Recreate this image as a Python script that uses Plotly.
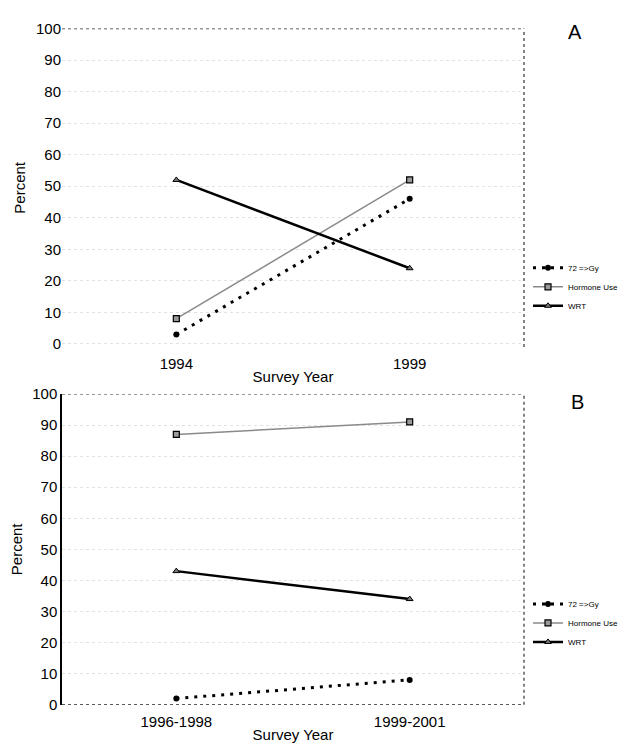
import plotly.graph_objects as go

# Panel A data
years_a = ["1994", "1999"]
gy72_a = [3, 46]
hormone_a = [8, 52]
wrt_a = [52, 24]

# Panel B data
years_b = ["1996-1998", "1999-2001"]
gy72_b = [2, 8]
hormone_b = [87, 91]
wrt_b = [43, 34]

series_names = ["72 =>Gy", "Hormone Use", "WRT"]

FONT = "Liberation Sans, Arial, sans-serif"

fig = go.Figure()

def add_series(xs, vals, name, xa, ya, legend, style):
    fig.add_trace(go.Scatter(
        x=xs, y=vals, name=name, mode="lines+markers",
        xaxis=xa, yaxis=ya, legend=legend, cliponaxis=False,
        line=style["line"], marker=style["marker"],
    ))

styles = [
    dict(line=dict(color="black", width=3, dash="3px,6px"),
         marker=dict(symbol="circle", size=6, color="black")),
    dict(line=dict(color="#8a8a8a", width=1.5),
         marker=dict(symbol="square", size=6, color="#9a9a9a",
                     line=dict(color="black", width=1.2))),
    dict(line=dict(color="black", width=2.5),
         marker=dict(symbol="triangle-up", size=6, color="#777",
                     line=dict(color="black", width=1))),
]

for name, vals, st in zip(series_names, [gy72_a, hormone_a, wrt_a], styles):
    add_series(years_a, vals, name, "x", "y", "legend", st)
for name, vals, st in zip(series_names, [gy72_b, hormone_b, wrt_b], styles):
    add_series(years_b, vals, name, "x2", "y2", "legend2", st)

W, H = 624, 744
xdom = [62 / W, 524 / W]
# panel A: 100 at y=20, 0 at y=343 (range -1..100)
ydom_a = [1 - 346 / H, 1 - 20 / H]
# panel B: 100 at y=394, 0 at y=712
ydom_b = [1 - 712 / H, 1 - 394 / H]

tickfont = dict(family=FONT, size=15, color="black")
titlefont = dict(family=FONT, size=15, color="black")

common_y = dict(
    tickmode="array", tickvals=list(range(0, 101, 10)),
    tickfont=tickfont, ticks="", showgrid=True, gridcolor="#e2e2e2",
    griddash="dot", gridwidth=1, zeroline=False,
    title=dict(text="Percent", font=titlefont, standoff=6),
)
common_x = dict(
    tickfont=tickfont, ticks="outside", ticklen=3, tickcolor="rgba(0,0,0,0)",
    showgrid=False, zeroline=False,
    range=[-0.49, 1.49], type="category",
    title=dict(text="Survey Year", font=titlefont, standoff=0),
)

fig.update_layout(
    width=W, height=H,
    margin=dict(l=0, r=0, t=0, b=0),
    paper_bgcolor="white", plot_bgcolor="white",
    font=dict(family=FONT, color="black"),
    xaxis=dict(domain=xdom, anchor="y", **common_x),
    yaxis=dict(domain=ydom_a, anchor="x", range=[-1, 100], showline=False, **common_y),
    xaxis2=dict(domain=xdom, anchor="y2", **common_x),
    yaxis2=dict(domain=ydom_b, anchor="x2", range=[0, 100], showline=True,
                linecolor="black", linewidth=1.5, **common_y),
    legend=dict(x=528 / W, y=1 - 250 / H, xanchor="left", yanchor="top",
                font=dict(family=FONT, size=8), itemwidth=30,
                bgcolor="rgba(0,0,0,0)", tracegroupgap=0),
    legend2=dict(x=528 / W, y=1 - 594 / H, xanchor="left", yanchor="top",
                 font=dict(family=FONT, size=8), itemwidth=30,
                 bgcolor="rgba(0,0,0,0)", tracegroupgap=0),
)

# frame lines (top 100 line, right dashed border, bottom of panel B)
for xr, yr in [("x domain", "y"), ("x2 domain", "y2")]:
    fig.add_shape(type="line", xref=xr, yref=yr, x0=0, x1=1, y0=100, y1=100,
                  line=dict(color="#333", width=1.2, dash="dot"))
for xr, yr in [("x domain", "y domain"), ("x2 domain", "y2 domain")]:
    fig.add_shape(type="line", xref=xr, yref=yr, x0=1, x1=1, y0=0, y1=1,
                  line=dict(color="#333", width=1.2, dash="dot"))
fig.add_shape(type="line", xref="x2 domain", yref="y2", x0=0, x1=1, y0=0, y1=0,
              line=dict(color="#222", width=1.5, dash="dot"))

fig.add_annotation(text="A", xref="paper", yref="paper", x=575 / W, y=1 - 24 / H,
                   xanchor="center", yanchor="middle",
                   showarrow=False, font=dict(family=FONT, size=20))
fig.add_annotation(text="B", xref="paper", yref="paper", x=577 / W, y=1 - 402 / H,
                   xanchor="center", yanchor="middle",
                   showarrow=False, font=dict(family=FONT, size=20))

fig.write_html("out.html")
